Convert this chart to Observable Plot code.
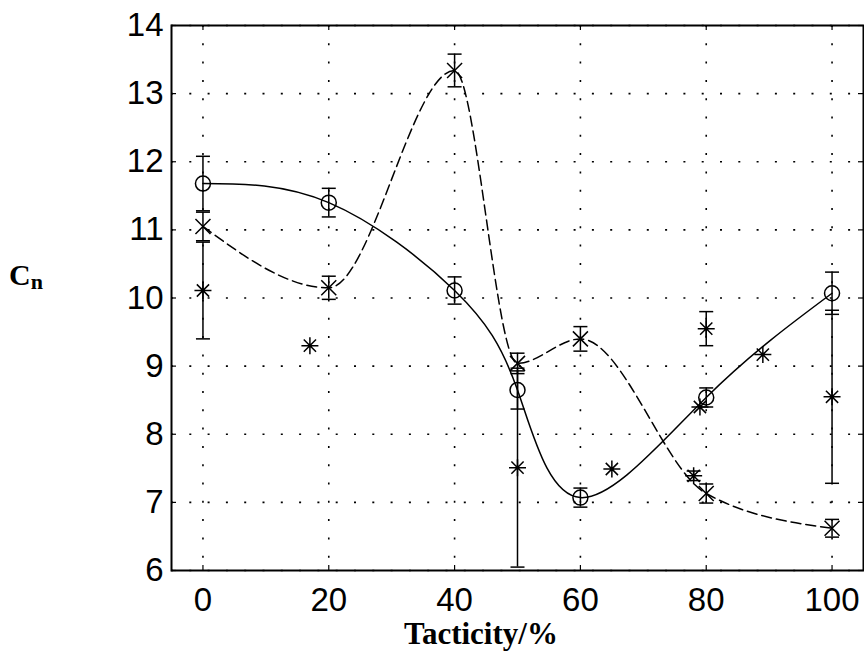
<!DOCTYPE html>
<html>
<head>
<meta charset="utf-8">
<script src="https://cdn.jsdelivr.net/npm/d3@7"></script>
<script src="https://cdn.jsdelivr.net/npm/@observablehq/plot@0.6"></script>
<style>
  html, body { margin: 0; padding: 0; background: #fff; }
  #chart svg { display: block; }
</style>
</head>
<body>
<div id="chart"></div>
<script>
// ---- data ----
const xTicks = [0, 20, 40, 60, 80, 100];
const yTicks = [6, 7, 8, 9, 10, 11, 12, 13, 14];

// series 1: open circles, solid curve
const circleX   = [0, 20, 40, 50, 60, 80, 100];
const circleY   = [11.68, 11.40, 10.11, 8.65, 7.07, 8.54, 10.07];
const circleErr = [0.40, 0.21, 0.20, 0.28, 0.14, 0.14, 0.31];

// series 2: crosses, dashed curve
const crossX   = [0, 20, 40, 50, 60, 80, 100];
const crossY   = [11.05, 10.15, 13.34, 9.04, 9.40, 7.13, 6.62];
const crossErr = [0.21, 0.17, 0.24, 0.15, 0.18, 0.14, 0.13];

// series 3: asterisks, no line
const starX   = [0, 17, 50, 65, 78, 79, 80, 89, 100];
const starY   = [10.11, 9.30, 7.51, 7.49, 7.39, 8.40, 9.55, 9.17, 8.55];
const starErr = [0.71, null, 1.46, null, 0.07, null, 0.25, null, 1.27];

const xLabel = "Tacticity/%";
const yLabelMain = "C";
const yLabelSub = "n";

// ---- tables ----
const mk = (xs, ys, es) => xs.map((x, i) => ({x, y: ys[i], e: es[i]}));
const circles = mk(circleX, circleY, circleErr);
const crosses = mk(crossX, crossY, crossErr);
const stars = mk(starX, starY, starErr);
const withErr = [...circles, ...crosses, ...stars].filter(d => d.e != null);

// ---- custom symbols ----
const hr = s => Math.sqrt(s / Math.PI);
const capSym = {draw(c, s) { const r = hr(s); c.moveTo(-r, 0); c.lineTo(r, 0); }};
const xSym = {draw(c, s) { const r = hr(s); c.moveTo(-r, -r); c.lineTo(r, r); c.moveTo(-r, r); c.lineTo(r, -r); }};
const starSym = {draw(c, s) {
  const r = hr(s), d = r * 0.72;
  c.moveTo(-r, 0); c.lineTo(r, 0);
  c.moveTo(0, -r); c.lineTo(0, r);
  c.moveTo(-d, -d); c.lineTo(d, d);
  c.moveTo(-d, d); c.lineTo(d, -d);
}};

const W = 864, H = 652, mL = 171, mT = 25, mR = 1, mB = 82;
const fw = W - mL - mR, fh = H - mT - mB, tk = 5;
const tickFont = "'Liberation Sans', Arial, Helvetica, sans-serif";

const svg = Plot.plot({
  width: W, height: H,
  marginLeft: mL, marginTop: mT, marginRight: mR, marginBottom: mB,
  style: {fontFamily: tickFont, fontSize: "33px", background: "#fff", color: "#000", overflow: "visible"},
  x: {domain: [-5, 105]},
  y: {domain: [6, 14]},
  marks: [
    // dotted grid
    Plot.ruleX(xTicks, {x: d => d, stroke: "#000", strokeWidth: 1.6, strokeDasharray: "2,16.3"}),
    Plot.ruleY(yTicks, {y: d => d, stroke: "#000", strokeWidth: 1.6, strokeDasharray: "2,16.3"}),
    // inward tick marks on all four sides
    Plot.ruleX(xTicks, {x: d => d, insetTop: fh - tk, stroke: "#000", strokeWidth: 1.2}),
    Plot.ruleX(xTicks, {x: d => d, insetBottom: fh - tk, stroke: "#000", strokeWidth: 1.2}),
    Plot.ruleY(yTicks, {y: d => d, insetRight: fw - tk, stroke: "#000", strokeWidth: 1.2}),
    Plot.ruleY(yTicks, {y: d => d, insetLeft: fw - tk, stroke: "#000", strokeWidth: 1.2}),
    // axes labels
    Plot.axisX({ticks: xTicks, tickSize: 0, tickPadding: 17, label: null, fontSize: 33, fontFamily: tickFont}),
    Plot.axisY({ticks: yTicks, tickSize: 0, tickPadding: 8, label: null, fontSize: 33, fontFamily: tickFont}),
    // curves
    Plot.line(circles, {x: "x", y: "y", curve: "natural", stroke: "#000", strokeWidth: 1.5}),
    Plot.line(crosses, {x: "x", y: "y", curve: "monotone-x", stroke: "#000", strokeWidth: 1.5, strokeDasharray: "10,5"}),
    // error bars
    Plot.ruleX(withErr, {x: "x", y1: d => d.y - d.e, y2: d => d.y + d.e, stroke: "#000", strokeWidth: 1.5}),
    Plot.dot(withErr, {x: "x", y: d => d.y - d.e, symbol: capSym, r: 7, stroke: "#000", strokeWidth: 1.5}),
    Plot.dot(withErr, {x: "x", y: d => d.y + d.e, symbol: capSym, r: 7, stroke: "#000", strokeWidth: 1.5}),
    // markers
    Plot.dot(circles, {x: "x", y: "y", symbol: "circle", r: 7.5, stroke: "#000", fill: "none", strokeWidth: 1.5}),
    Plot.dot(crosses, {x: "x", y: "y", symbol: xSym, r: 7.5, stroke: "#000", fill: "none", strokeWidth: 1.5}),
    Plot.dot(stars, {x: "x", y: "y", symbol: starSym, r: 8.5, stroke: "#000", fill: "none", strokeWidth: 1.5}),
    // frame
    Plot.frame({stroke: "#000", strokeWidth: 2})
  ]
});

const serif = "'Liberation Serif', 'Times New Roman', serif";
const s = d3.select(svg);
s.append("text")
  .attr("x", 481).attr("y", 644)
  .attr("text-anchor", "middle")
  .attr("font-family", serif)
  .attr("font-weight", "bold")
  .attr("font-size", 31)
  .attr("fill", "#000")
  .text(xLabel);
const yl = s.append("text")
  .attr("x", 9).attr("y", 285)
  .attr("text-anchor", "start")
  .attr("font-family", serif)
  .attr("font-weight", "bold")
  .attr("font-size", 30)
  .attr("fill", "#000");
yl.append("tspan").text(yLabelMain);
yl.append("tspan").attr("font-size", 22).attr("dy", 4).text(yLabelSub);

document.getElementById("chart").appendChild(svg);
</script>
</body>
</html>
